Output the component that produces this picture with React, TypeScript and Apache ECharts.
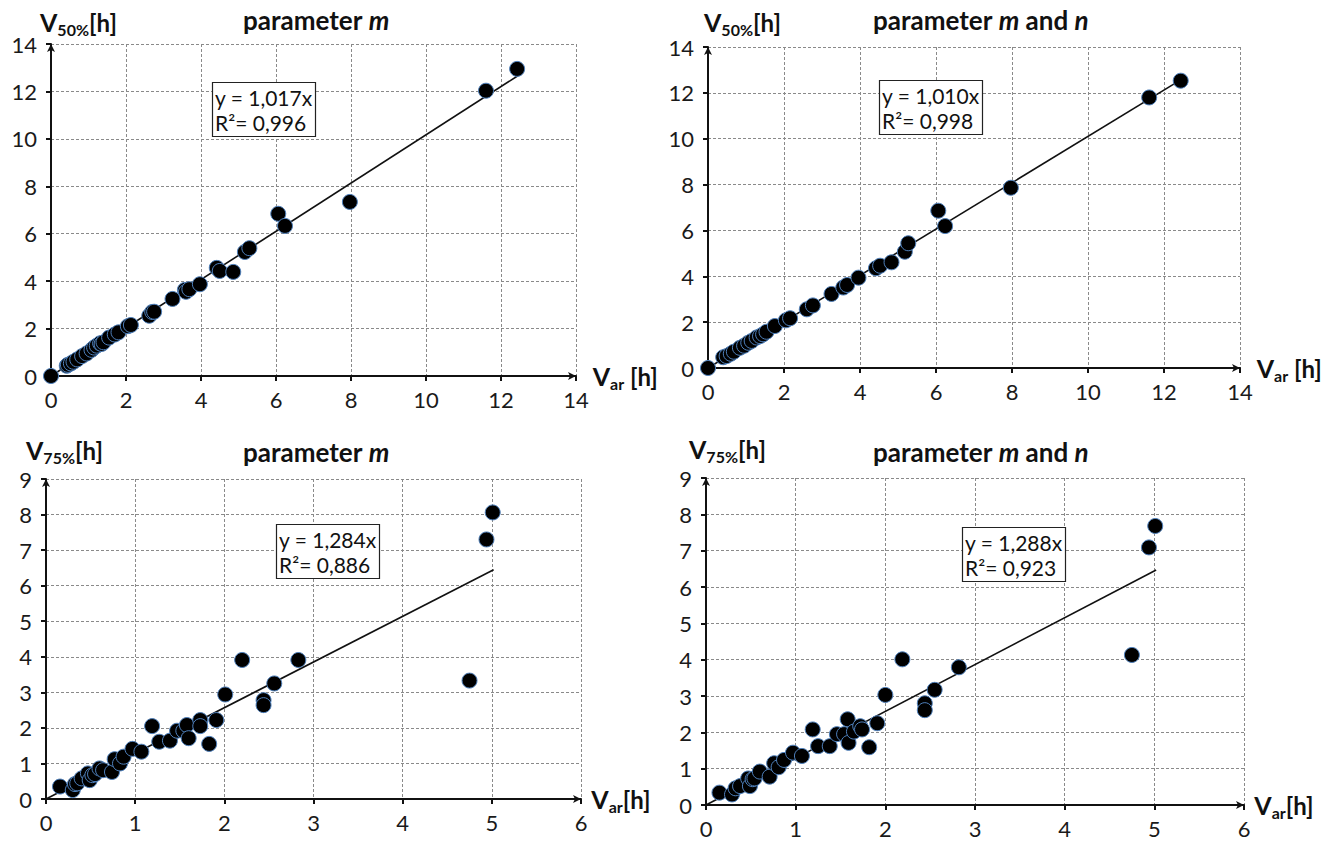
import { useEffect, useRef } from "react";
import * as echarts from "echarts";

// Panel 1: V50% vs Var, parameter m
const p1x = [0, 0.42, 0.45, 0.53, 0.6, 0.7, 0.83, 0.95, 1.08, 1.15, 1.22, 1.31, 1.35, 1.4, 1.55, 1.7, 1.8, 2.05, 2.13, 2.62, 2.7, 2.75, 3.24, 3.57, 3.6, 3.69, 3.97, 4.42, 4.5, 4.86, 5.17, 5.29, 6.06, 6.24, 7.97, 11.6, 12.43];
const p1y = [0, 0.43, 0.47, 0.53, 0.6, 0.7, 0.84, 0.95, 1.1, 1.2, 1.28, 1.38, 1.35, 1.42, 1.62, 1.75, 1.84, 2.1, 2.15, 2.54, 2.7, 2.71, 3.25, 3.63, 3.55, 3.66, 3.87, 4.56, 4.43, 4.39, 5.23, 5.39, 6.84, 6.33, 7.34, 12.03, 12.95];
// Panel 2: V50% vs Var, parameter m and n
const p2x = [0, 0.4, 0.49, 0.6, 0.68, 0.84, 0.95, 1.06, 1.15, 1.28, 1.37, 1.45, 1.54, 1.76, 2.05, 2.16, 2.6, 2.76, 3.25, 3.56, 3.66, 3.96, 4.42, 4.53, 4.83, 5.18, 5.27, 6.06, 6.24, 7.97, 11.61, 12.44];
const p2y = [0, 0.47, 0.52, 0.62, 0.71, 0.88, 0.97, 1.1, 1.18, 1.33, 1.39, 1.47, 1.58, 1.83, 2.08, 2.17, 2.56, 2.73, 3.23, 3.51, 3.62, 3.94, 4.35, 4.46, 4.61, 5.07, 5.44, 6.86, 6.19, 7.86, 11.8, 12.53];
// Panel 3: V75% vs Var, parameter m
const p3x = [0.157, 0.3, 0.325, 0.35, 0.4, 0.47, 0.49, 0.52, 0.55, 0.6, 0.64, 0.74, 0.77, 0.83, 0.87, 0.97, 1.07, 1.19, 1.27, 1.39, 1.47, 1.54, 1.58, 1.6, 1.73, 1.73, 1.83, 1.91, 2.01, 2.2, 2.44, 2.44, 2.56, 2.83, 4.75, 4.94, 5.01];
const p3y = [0.35, 0.25, 0.42, 0.44, 0.58, 0.72, 0.53, 0.67, 0.7, 0.86, 0.81, 0.76, 1.12, 1.0, 1.19, 1.41, 1.33, 2.05, 1.61, 1.64, 1.92, 1.92, 2.08, 1.71, 2.22, 2.05, 1.55, 2.22, 2.94, 3.91, 2.78, 2.64, 3.25, 3.91, 3.33, 7.3, 8.06];
// Panel 4: V75% vs Var, parameter m and n
const p4x = [0.15, 0.29, 0.33, 0.38, 0.47, 0.49, 0.52, 0.54, 0.6, 0.71, 0.76, 0.81, 0.87, 0.97, 1.07, 1.19, 1.25, 1.38, 1.46, 1.54, 1.58, 1.59, 1.65, 1.72, 1.74, 1.82, 1.91, 2.0, 2.19, 2.44, 2.44, 2.55, 2.82, 4.75, 4.94, 5.01];
const p4y = [0.34, 0.29, 0.46, 0.52, 0.73, 0.52, 0.71, 0.73, 0.92, 0.78, 1.15, 1.04, 1.24, 1.44, 1.35, 2.08, 1.62, 1.62, 1.95, 1.95, 2.36, 1.71, 2.02, 2.17, 2.08, 1.59, 2.25, 3.03, 4.01, 2.8, 2.61, 3.17, 3.79, 4.13, 7.09, 7.68];

const xs = [p1x, p2x, p3x, p4x];
const ys = [p1y, p2y, p3y, p4y];

// Regression slopes and R² shown in each panel, and end of the fitted line
const slopes = [1.017, 1.01, 1.284, 1.288];
const slopeLabels = ["1,017", "1,010", "1,284", "1,288"];
const r2Labels = ["0,996", "0,998", "0,886", "0,923"];
const fitEnd = [12.45, 12.45, 5.02, 5.02];

// Axis settings
const axisMax = [14, 14, 6, 6];
const xInterval = [2, 2, 1, 1];
const yMax = [14, 14, 9, 9];
const yInterval = [2, 2, 1, 1];

const titles = ["parameter m", "parameter m and n", "parameter m", "parameter m and n"];
const yNames = ["50%", "50%", "75%", "75%"];
const xNameSpace = [" ", " ", "", ""];

const FONT = "Lato, 'Open Sans', sans-serif";

const grids = [
  { left: 51, top: 44, width: 525, height: 332 },
  { left: 708, top: 47, width: 532, height: 321 },
  { left: 46, top: 479, width: 535, height: 320 },
  { left: 706, top: 478, width: 538, height: 327 },
];
const titlePos = [
  { left: 238, top: 2 },
  { left: 868, top: 2 },
  { left: 238, top: 434 },
  { left: 868, top: 434 },
];
const yNamePos = [
  { left: 35, top: 2 },
  { left: 699, top: 2 },
  { left: 21, top: 430 },
  { left: 684, top: 429 },
];
const boxPos = [
  { left: 212, top: 82 },
  { left: 879, top: 80 },
  { left: 276, top: 524 },
  { left: 962, top: 527 },
];

const subRich = {
  v: { fontSize: 25, fontWeight: "bold", fontFamily: FONT, color: "#111", lineHeight: 30, verticalAlign: "middle" },
  s: { fontSize: 16, fontWeight: "bold", fontFamily: FONT, color: "#111", lineHeight: 14, verticalAlign: "bottom" },
  h: { fontSize: 24, fontWeight: "bold", fontFamily: FONT, color: "#111", lineHeight: 30, verticalAlign: "middle" },
};

export default function App() {
  const ref = useRef<HTMLDivElement>(null);
  useEffect(() => {
    if (!ref.current) return;
    const chart = echarts.init(ref.current, null, { renderer: "svg" });
    const axisCommon = (max: number, interval: number, margin: number) => ({
      type: "value",
      min: 0,
      max,
      interval,
      axisLine: {
        show: true,
        onZero: false,
        symbol: ["none", "arrow"],
        symbolSize: [6, 8],
        lineStyle: { color: "#111", width: 2 },
      },
      axisTick: { show: true, inside: false, length: 5, lineStyle: { color: "#111", width: 2 } },
      axisLabel: { fontSize: 22, color: "#1a1a1a", fontFamily: FONT, margin },
      splitLine: { show: true, lineStyle: { color: "#8a8a8a", type: [3, 2], width: 1 } },
    });
    const xAxis = grids.map((_, i) => ({
      ...axisCommon(axisMax[i], xInterval[i], 12),
      gridIndex: i,
      name: `{v|V}{s|ar}{h|${xNameSpace[i]}[h]}`,
      nameLocation: "end",
      nameGap: 5,
      nameTextStyle: { rich: subRich, align: "left", verticalAlign: "middle" },
    }));
    const yAxis = grids.map((_, i) => ({
      ...axisCommon(yMax[i], yInterval[i], 14),
      gridIndex: i,
    }));
    const series: any[] = [];
    grids.forEach((_, i) => {
      series.push({
        type: "line",
        xAxisIndex: i,
        yAxisIndex: i,
        data: [
          [0, 0],
          [fitEnd[i], slopes[i] * fitEnd[i]],
        ],
        showSymbol: false,
        symbol: "none",
        lineStyle: { color: "#111", width: 1.6 },
        z: 3,
      });
      series.push({
        type: "scatter",
        xAxisIndex: i,
        yAxisIndex: i,
        data: xs[i].map((x, k) => [x, ys[i][k]]),
        symbolSize: 15,
        itemStyle: { color: "#000", borderColor: "#4f81bd", borderWidth: 1, opacity: 1 },
        z: 4,
      });
    });
    const title: any[] = [];
    grids.forEach((_, i) => {
      const t = titles[i];
      const text = t
        .replace(/ m( |$)/, " {i|m}$1")
        .replace(/ n$/, " {i|n}");
      const parts = text.split(/(\{i\|[mn]\})/).map((p) => (p.startsWith("{i|") ? p : p ? `{b|${p}}` : ""));
      title.push({
        text: parts.join(""),
        left: titlePos[i].left,
        top: titlePos[i].top,
        textStyle: {
          rich: {
            b: { fontSize: 26, fontWeight: "bold", fontFamily: FONT, color: "#111" },
            i: { fontSize: 26, fontWeight: "bold", fontStyle: "italic", fontFamily: FONT, color: "#111" },
          },
        },
      });
      title.push({
        text: `{v|V}{s|${yNames[i]}}{h|[h]}`,
        left: yNamePos[i].left,
        top: yNamePos[i].top,
        textStyle: { rich: subRich },
      });
      title.push({
        text: `y = ${slopeLabels[i]}x\nR²= ${r2Labels[i]}`,
        left: boxPos[i].left,
        top: boxPos[i].top,
        padding: [3, 3, 2, 3],
        borderColor: "#222",
        borderWidth: 1.2,
        backgroundColor: "#fff",
        textStyle: { fontSize: 21, fontWeight: "normal", fontFamily: FONT, color: "#111", lineHeight: 25, align: "center" },
      });
    });
    chart.setOption({
      animation: false,
      backgroundColor: "#fff",
      textStyle: { fontFamily: FONT },
      title,
      grid: grids.map((g) => ({ ...g, containLabel: false })),
      xAxis,
      yAxis,
      series,
    });
    return () => chart.dispose();
  }, []);
  return (
    <div
      ref={ref}
      style={{ position: "fixed", left: 0, top: 0, width: 1324, height: 842 }}
    />
  );
}
